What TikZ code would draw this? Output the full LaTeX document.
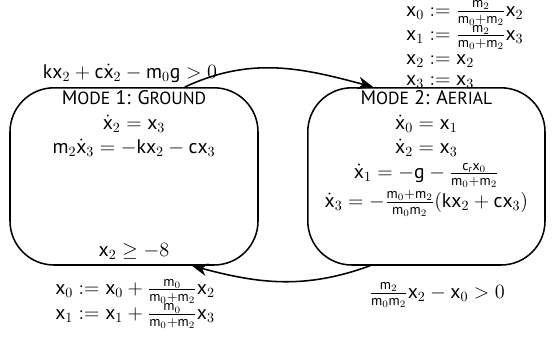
\documentclass[tikz,border=0pt]{standalone}
\usepackage{amsmath}
\usepackage{fontspec}
\setmainfont{PT Sans}
\usetikzlibrary{positioning,arrows.meta}
\newcommand{\vx}[1]{\mathrm{x}_{#1}}
\newcommand{\dx}[1]{\dot{\mathrm{x}}_{#1}}
\newcommand{\vm}[1]{\mathrm{m}_{#1}}
\newcommand{\fsc}[2]{#1{\fontsize{12.5}{12}\selectfont #2}}
\tikzset{
  mode/.style={draw, line width=1.1pt, rounded corners=1.1cm},
  eqs/.style={align=center, inner sep=1pt},
  trans/.style={-{Stealth[length=11pt,width=9pt]}, line width=1.1pt},
}

\begin{document}
\begin{tikzpicture}[font=\fontsize{14}{16}\selectfont]
\useasboundingbox (0,0) rectangle (13.875,8.45);
% the two modes
\node[mode, minimum width=6.2cm, minimum height=4.43cm] (ground) at (3.35,4.04) {};
\node[mode, minimum width=5.93cm, minimum height=4.43cm] (aerial) at (10.66,4.04) {};

\node[eqs, below=1pt of ground.north] (groundflow) {\fsc{M}{ODE} 1: \fsc{G}{ROUND}\\[2pt]
  $\dx{2} = \vx{3}$\\[1pt]
  $\vm{2}\dx{3} = -\mathrm{k}\vx{2} - \mathrm{c}\vx{3}$};
\node[eqs, above=3pt of ground.south] (groundinv) {$\vx{2} \geq -8$};

\node[eqs, below=1pt of aerial.north] (aerialflow) {\fsc{M}{ODE} 2: \fsc{A}{ERIAL}\\[2pt]
  $\dx{0} = \vx{1}$\\[1pt]
  $\dx{2} = \vx{3}$\\[2pt]
  $\dx{1} = -\mathrm{g} - \frac{\mathrm{c}_{\mathrm{r}}\vx{0}}{\vm{0}+\vm{2}}$\\[1pt]
  $\dx{3} = -\frac{\vm{0}+\vm{2}}{\vm{0}\vm{2}}(\mathrm{k}\vx{2} + \mathrm{c}\vx{3})$};

% guards and resets
\node[eqs] (takeoff) at (3.25,6.62) {$\mathrm{k}\vx{2} + \mathrm{c}\dx{2} - \vm{0}\mathrm{g} > 0$};
\node[eqs] (takeoffreset) at (11.62,7.3) {\renewcommand{\arraystretch}{0.92}$\begin{array}{r@{\;:=\;}l}
  \vx{0} & \frac{\vm{2}}{\vm{0}+\vm{2}}\vx{2}\\
  \vx{1} & \frac{\vm{2}}{\vm{0}+\vm{2}}\vx{3}\\
  \vx{2} & \vx{2}\\
  \vx{3} & \vx{3}
  \end{array}$};
\node[eqs] (landing) at (10.93,1.075) {$\frac{\vm{2}}{\vm{0}\vm{2}}\vx{2} - \vx{0} > 0$};
\node[eqs] (landingreset) at (3.375,0.86) {$\begin{array}{r@{\;:=\;}l}
  \vx{0} & \vx{0} + \frac{\vm{0}}{\vm{0}+\vm{2}}\vx{2}\\
  \vx{1} & \vx{1} + \frac{\vm{0}}{\vm{0}+\vm{2}}\vx{3}
  \end{array}$};

% transitions
\draw[trans] ([xshift=1.27cm]ground.north) to[out=25,in=165] ([xshift=-1.33cm]aerial.north);
\draw[trans] ([xshift=-1.41cm]aerial.south) to[out=200,in=-15] ([xshift=1.45cm]ground.south);
\end{tikzpicture}
\end{document}
